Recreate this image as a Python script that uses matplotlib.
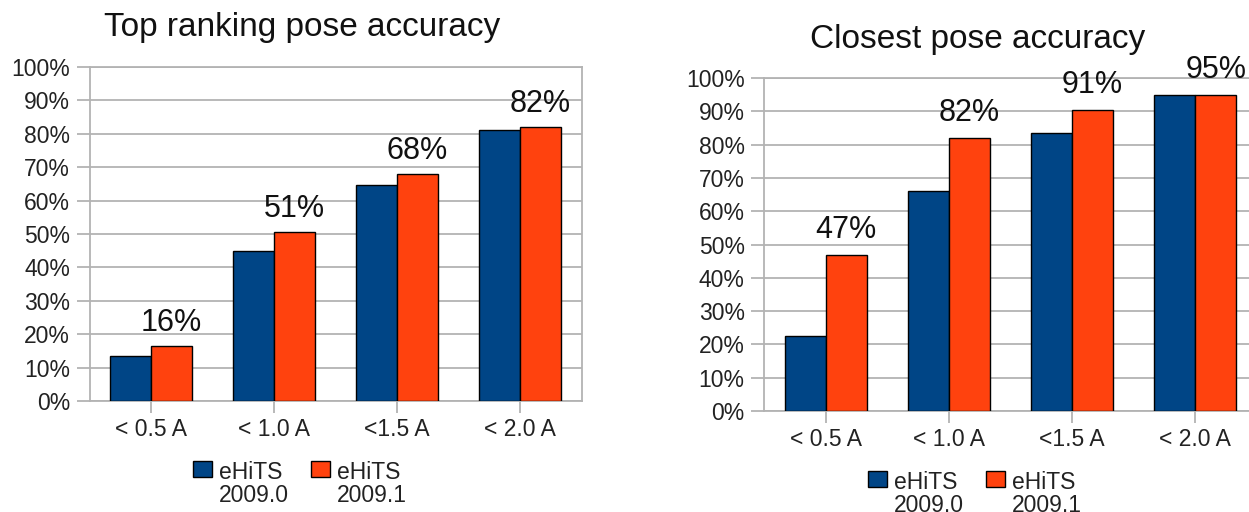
import numpy as np
import matplotlib
matplotlib.use("Agg")
import matplotlib.pyplot as plt

plt.rcParams['font.family'] = ['Liberation Sans', 'DejaVu Sans']

categories = ["< 0.5 A", "< 1.0 A", "<1.5 A", "< 2.0 A"]
series_names = ["eHiTS\n2009.0", "eHiTS\n2009.1"]

top_v0 = [13.5, 45.0, 64.8, 81.0]
top_v1 = [16.6, 50.6, 68.0, 82.1]
top_labels = ["16%", "51%", "68%", "82%"]

close_v0 = [22.4, 66.0, 83.4, 95.0]
close_v1 = [46.8, 82.0, 90.5, 95.0]
close_labels = ["47%", "82%", "91%", "95%"]

yticks = list(range(0, 101, 10))
ytick_labels = [f"{t}%" for t in yticks]

BLUE = "#004586"
ORANGE = "#ff420e"
GRID = "#b3b3b3"
TXT = "#222222"

W, H = 1249, 512
fig = plt.figure(figsize=(W / 100, H / 100), dpi=100)


def px_axes(x0, y_top, x1, y_bot):
    return fig.add_axes([x0 / W, (H - y_bot) / H, (x1 - x0) / W, (y_bot - y_top) / H])


def draw(ax, v0, v1, labels, title, title_x, title_base, leg_x, leg_top, ann_off):
    x = np.arange(len(categories))
    w = 0.333
    ax.bar(x - w / 2, v0, w, color=BLUE, edgecolor="black", linewidth=1.0,
           label=series_names[0], zorder=3)
    ax.bar(x + w / 2, v1, w, color=ORANGE, edgecolor="black", linewidth=1.0,
           label=series_names[1], zorder=3)
    ax.set_xlim(-0.5, len(categories) - 0.5)
    ax.set_ylim(0, 100)
    ax.set_yticks(yticks)
    ax.set_yticklabels(ytick_labels)
    ax.set_xticks(x)
    ax.set_xticklabels(categories)
    ax.yaxis.grid(True, color=GRID, linewidth=1.3, zorder=0)
    ax.set_axisbelow(True)
    for s in ax.spines.values():
        s.set_color(GRID)
        s.set_linewidth(1.3)
    ax.tick_params(axis="y", length=9.4, width=1.3, color=GRID, pad=4.5,
                   labelsize=16.5, labelcolor=TXT)
    ax.tick_params(axis="x", length=8.6, width=1.3, color=GRID, pad=3.5,
                   labelsize=16.5, labelcolor=TXT)
    for xi, v, lab in zip(x, v1, labels):
        ax.annotate(lab, (xi + w / 2, v), xytext=(0, ann_off), textcoords="offset points",
                    ha="center", va="bottom", fontsize=22, color="#111111",
                    annotation_clip=False)
    fig.text(title_x / W, 1 - title_base / H, title, ha="center", va="baseline",
             fontsize=24, color="#111111")
    leg = ax.legend(loc="upper center", bbox_to_anchor=(leg_x / W, 1 - leg_top / H),
                    bbox_transform=fig.transFigure, ncol=2, frameon=False,
                    fontsize=16.5, handlelength=0.8, handleheight=0.72,
                    handletextpad=0.3, columnspacing=1.0, borderpad=0,
                    borderaxespad=0)
    for t in leg.get_texts():
        t.set_linespacing(1.0)
        t.set_color(TXT)
    for p in leg.get_patches():
        p.set_linewidth(1.0)
    # align each swatch with the first line of its two-line label
    for col in leg._legend_handle_box.get_children():
        for row in col.get_children():
            row.align = "top"


ax1 = px_axes(89.5, 67, 581.5, 401)
draw(ax1, top_v0, top_v1, top_labels, "Top ranking pose accuracy", 302.5, 36, 300, 461, 5.5)

ax2 = px_axes(764, 78, 1257, 411)
draw(ax2, close_v0, close_v1, close_labels, "Closest pose accuracy", 977.5, 48, 975, 471, 7.2)

fig.savefig("out.png", dpi=100)
